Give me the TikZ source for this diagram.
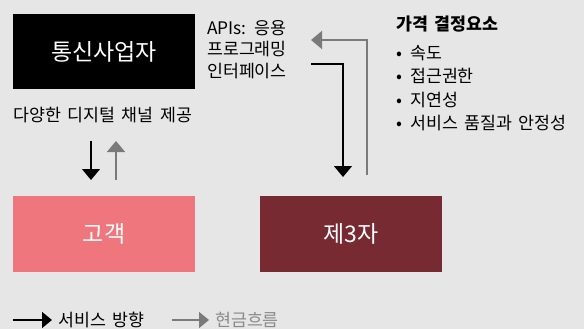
\documentclass[tikz,border=0pt]{standalone}
\usepackage{fontspec}
\setmainfont{Noto Sans CJK KR}[WordSpace=1.7]
\usetikzlibrary{arrows.meta}
\definecolor{bg}{HTML}{E6E6E6}
\definecolor{pinkbox}{HTML}{EF767C}
\definecolor{wine}{HTML}{772A31}
\definecolor{cashgray}{HTML}{7A7A7A}
\definecolor{legendgray}{HTML}{8A8A8A}
\tikzset{
  box/.style={rectangle, minimum width=182pt, minimum height=76pt, inner sep=0pt, text=white, font=\fontsize{23}{27}\selectfont},
  lbl/.style={anchor=west, inner sep=0pt, font=\fontsize{17.3}{21.5}\selectfont, align=left},
  tipbig/.style={-{Triangle[length=11pt,width=18pt]}},
  svc/.style={draw=black, line width=1.4pt, tipbig},
  cash/.style={draw=cashgray, line width=1.6pt, tipbig},
  svcl/.style={draw=black, line width=1.4pt, -{Triangle[length=10pt,width=16pt]}},
  cashl/.style={draw=cashgray, line width=1.6pt, -{Triangle[length=10pt,width=16pt]}}
}
\begin{document}
\begin{tikzpicture}[x=1pt,y=-1pt]
\fill[bg] (0,0) rectangle (584,329);
\useasboundingbox (0,0) rectangle (584,329);

% boxes
\node[box, fill=black, minimum height=75pt] (telco) at (104,51.5) {통신사업자};
\node[box, fill=pinkbox] (cust) at (104,234) {고객};
\node[box, fill=wine] (third) at (351,234) {제3자};

% labels
\node[lbl] (api) at (207,49.5) {APIs: 응용\\프로그래밍\\인터페이스};
\node[lbl] (chan) at (13,115) {다양한 디지털 채널 제공};
\node[lbl, font=\fontsize{17.3}{21.5}\selectfont\bfseries] (phead) at (396,24) {가격 결정요소};
\node[lbl, font=\fontsize{17.3}{23.5}\selectfont] (plist) at (396,88) {\makebox[14pt][l]{•}속도\\\makebox[14pt][l]{•}접근권한\\\makebox[14pt][l]{•}지연성\\\makebox[14pt][l]{•}서비스 품질과 안정성};

% left arrows
\coordinate (s1) at (91,141);
\coordinate (s2) at (91,180);
\coordinate (c1) at (116,180);
\coordinate (c2) at (116,141);
\draw[svc] (s1) -- (s2);
\draw[cash] (c1) -- (c2);

% right arrows
\coordinate (g1) at (367,175);
\coordinate (g2) at (311,40);
\draw[cash] (g1) |- (g2);
\coordinate (b1) at (311,64);
\coordinate (b2) at (343,177);
\draw[svc] (b1) -| (b2);

% legend
\coordinate (l1) at (13,320);
\coordinate (l2) at (52,320);
\draw[svcl] (l1) -- (l2);
\node[lbl] (ltxt1) at (58,320) {서비스 방향};
\coordinate (l3) at (172,320);
\coordinate (l4) at (209,320);
\draw[cashl] (l3) -- (l4);
\node[lbl, text=legendgray] (ltxt2) at (215,320) {현금흐름};
\end{tikzpicture}
\end{document}
